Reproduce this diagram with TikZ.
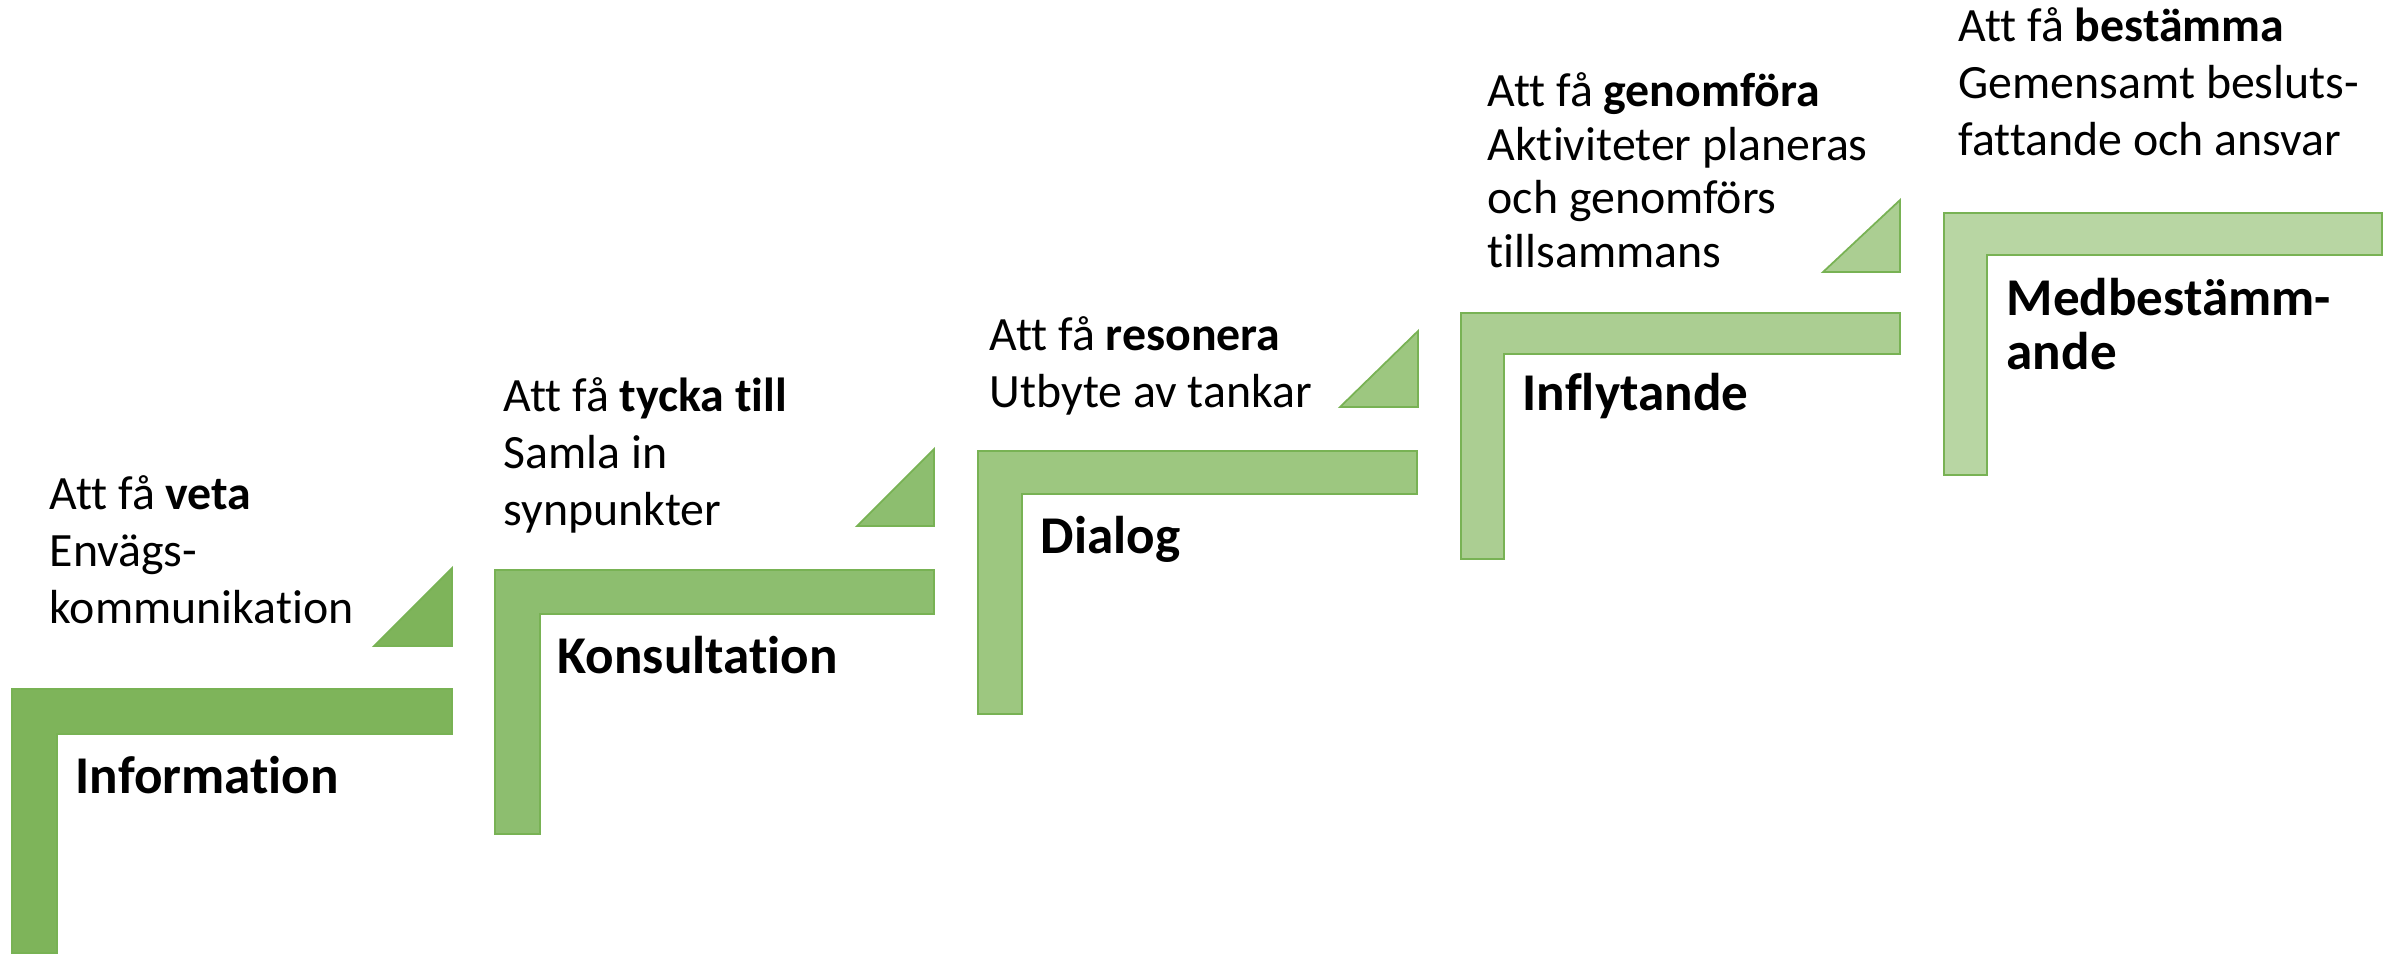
\documentclass[tikz,border=0pt]{standalone}
\usepackage{fontspec}
\setmainfont{Carlito}[Ligatures={NoCommon}]
\usepackage{tikz}
\usetikzlibrary{positioning}

\definecolor{stepone}{RGB}{126,180,90}
\definecolor{steptwo}{RGB}{141,190,111}
\definecolor{stepthree}{RGB}{157,199,128}
\definecolor{stepfour}{RGB}{171,206,146}
\definecolor{stepfive}{RGB}{184,214,163}
\definecolor{stairline}{RGB}{120,178,84}

\begin{document}
\begin{tikzpicture}[x=0.01cm, y=-0.01cm,
    stair/.style={draw=stairline, line width=0.5pt},
    wedge/.style={draw=stairline, line width=0.5pt},
    level text/.style={inner sep=0pt, anchor=base west, align=left,
        font=\fontsize{13.6pt}{16.2pt}\selectfont},
    level name/.style={inner sep=0pt, anchor=base west, align=left,
        font=\fontsize{15.1pt}{15.1pt}\selectfont\bfseries}]

    \useasboundingbox (0,0) rectangle (2395,953);

    % Information
    \draw [stair, fill=stepone] (12,953) -- (12,689) -- (452,689) -- (452,734) -- (57,734) -- (57,953) -- cycle;
    \draw [wedge, fill=stepone] (374,646) -- (452,568) -- (452,646) -- cycle;
    \node [level name] (information) at (75,793) {Information};
    \node [level text] (veta) at (49,623) {Att få \textbf{veta}\\Envägs-\\kommunikation};

    % Konsultation
    \draw [stair, fill=steptwo] (495,834) -- (495,570) -- (934,570) -- (934,614) -- (540,614) -- (540,834) -- cycle;
    \draw [wedge, fill=steptwo] (857,526) -- (934,449) -- (934,526) -- cycle;
    \node [level name] (konsultation) at (557,673) {Konsultation};
    \node [level text] (tycka) at (503,525) {Att få \textbf{tycka till}\\Samla in\\synpunkter};

    % Dialog
    \draw [stair, fill=stepthree] (978,714) -- (978,451) -- (1417,451) -- (1417,494) -- (1022,494) -- (1022,714) -- cycle;
    \draw [wedge, fill=stepthree] (1340,407) -- (1418,331) -- (1418,407) -- cycle;
    \node [level name] (dialog) at (1040,553) {Dialog};
    \node [level text] (resonera) at (989,407) {Att få \textbf{resonera}\\Utbyte av tankar};

    % Inflytande
    \draw [stair, fill=stepfour] (1461,559) -- (1461,313) -- (1900,313) -- (1900,354) -- (1504,354) -- (1504,559) -- cycle;
    \draw [wedge, fill=stepfour] (1823,272) -- (1900,200) -- (1900,272) -- cycle;
    \node [level name] (inflytande) at (1522,410) {Inflytande};
    \node [level text, font=\fontsize{13.6pt}{15.2pt}\selectfont] (genomfora) at (1487,267) {Att få \textbf{genomföra}\\Aktiviteter planeras\\och genomförs\\tillsammans};

    % Medbestämmande
    \draw [stair, fill=stepfive] (1944,475) -- (1944,213) -- (2382,213) -- (2382,255) -- (1987,255) -- (1987,475) -- cycle;
    \node [level name] (medbestammande) at (2006,369) {Medbestämm-\\ande};
    \node [level text] (bestamma) at (1958,155) {Att få \textbf{bestämma}\\Gemensamt besluts-\\fattande och ansvar};

\end{tikzpicture}
\end{document}
